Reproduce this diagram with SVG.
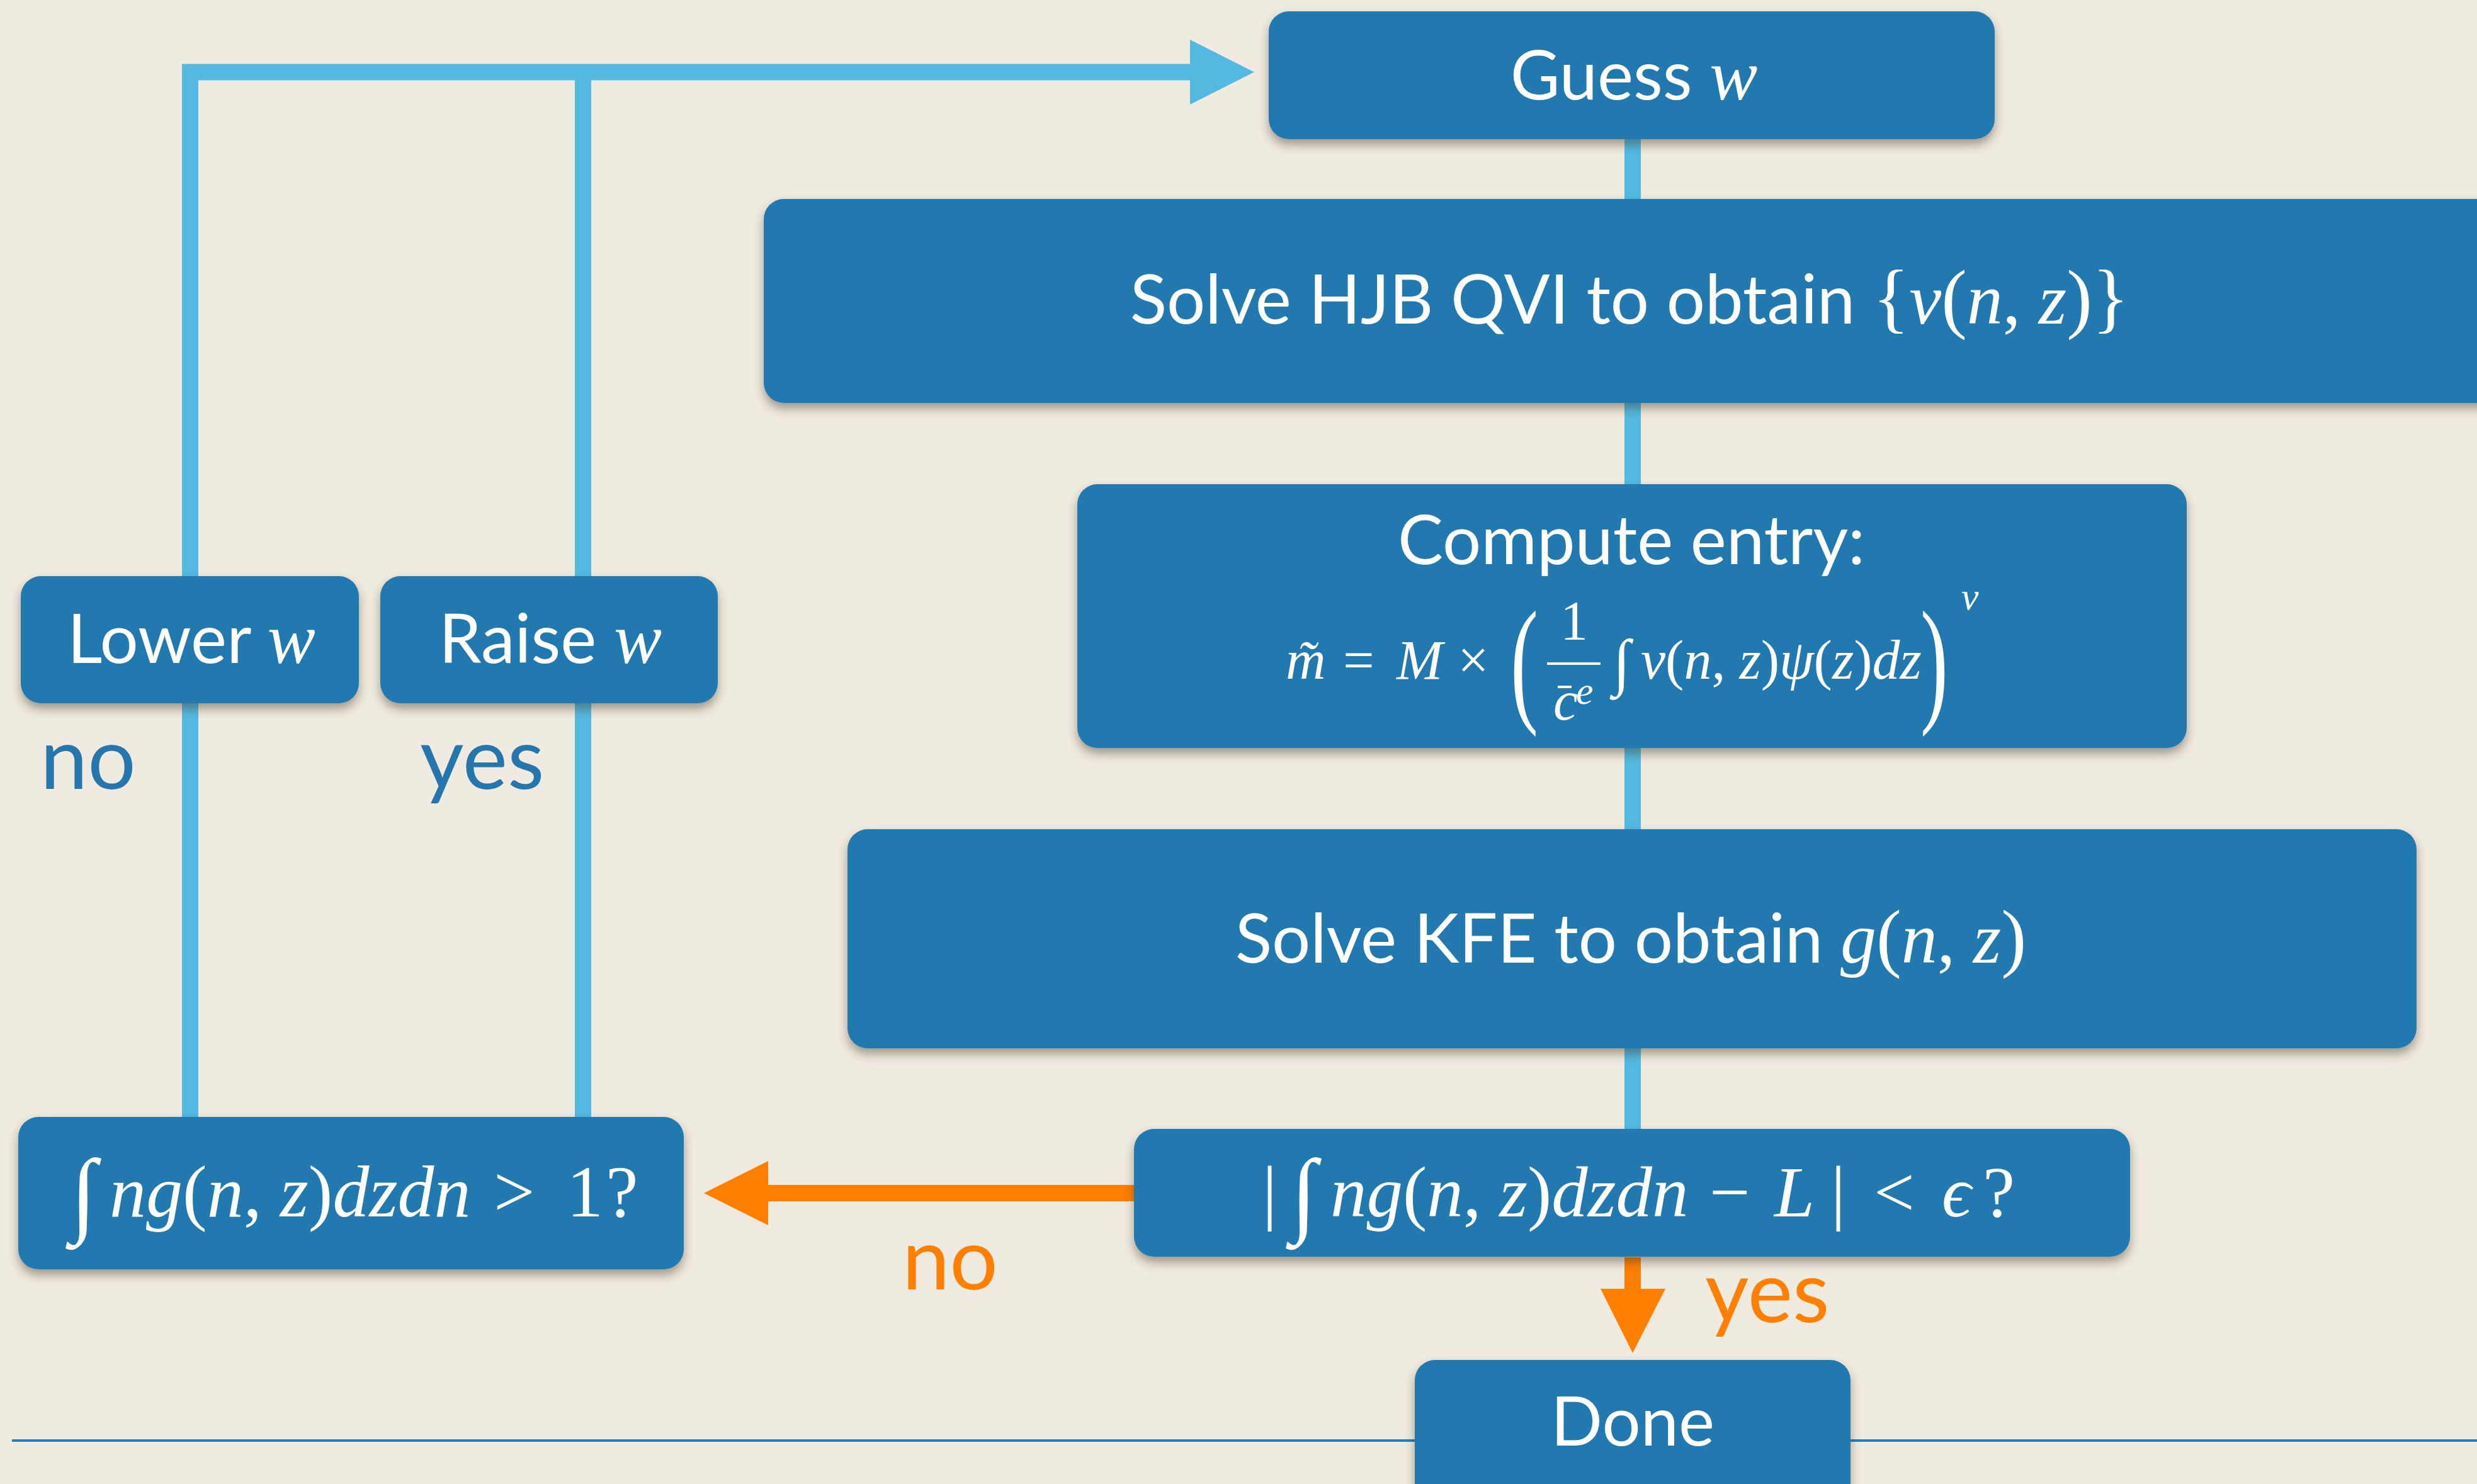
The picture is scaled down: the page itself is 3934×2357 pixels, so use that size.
<svg xmlns="http://www.w3.org/2000/svg" width="3934" height="2357" viewBox="0 0 3934 2357">
<style>
.box{fill:#2479AF;filter:url(#sh)}
.t{font-family:Lato,"Noto Sans",sans-serif;fill:#fff;font-size:108px}
.m{font-family:"Liberation Serif","DejaVu Serif",serif;font-style:normal;fill:#fff}
.mi{font-family:"Liberation Serif","DejaVu Serif",serif;font-style:italic;fill:#fff}
.lbl{font-family:Lato,"Noto Sans",sans-serif;font-size:135px}
.blue{fill:#2676AE}
.orange{fill:#FF7F00}
.conn{fill:none;stroke:#54B9E0;stroke-width:26;stroke-linejoin:miter}
.or{fill:none;stroke:#FF7F00;stroke-width:26}
.head-b{fill:#54B9E0}
.head-o{fill:#FF7F00}
</style>
<defs>
<filter id="sh" x="-10%" y="-20%" width="120%" height="150%">
<feDropShadow dx="0" dy="9" stdDeviation="8" flood-color="#3a3020" flood-opacity="0.45"/>
</filter>
</defs>
<rect x="0" y="0" width="3934" height="2357" fill="#EFEBE0"/>
<rect x="19" y="2286" width="3915" height="4" fill="#2F7CB0"/>

<g id="connectors">
<line class="conn" x1="2593" y1="221" x2="2593" y2="1793" stroke-width="27"/>
<path class="conn" d="M302,1774 V114.5 H1892"/>
<path class="conn" d="M926,1774 V114.5"/>
<polygon class="head-b" points="1890,63 1992,114.5 1890,166"/>
<path class="or" d="M1801,1895 H1218"/>
<polygon class="head-o" points="1220,1844 1118,1895 1220,1946"/>
<path class="or" d="M2593,1997 V2049" stroke-width="27"/>
<polygon class="head-o" points="2542,2047 2645,2047 2593,2149"/>
</g>

<g id="labels">
<text class="lbl blue" x="64" y="1253">no</text>
<text class="lbl blue" x="667" y="1253">yes</text>
<text class="lbl orange" x="1433" y="2048">no</text>
<text class="lbl orange" x="2708" y="2100">yes</text>
</g>

<g id="guess">
<rect class="box" x="2015" y="18" width="1153" height="203" rx="32"/>
<text class="t" x="2595" y="158" text-anchor="middle">Guess <tspan class="mi" font-size="114">w</tspan></text>
</g>

<g id="hjb">
<rect class="box" x="1213" y="316" width="2800" height="324" rx="32"/>
<text class="t" x="2588" y="514" text-anchor="middle">Solve HJB QVI to obtain <tspan class="m" font-size="122">{</tspan><tspan class="mi" font-size="114">v</tspan><tspan class="m" font-size="122">(</tspan><tspan class="mi" font-size="114">n</tspan><tspan class="m" font-size="114">, </tspan><tspan class="mi" font-size="114">z</tspan><tspan class="m" font-size="122">)}</tspan></text>
</g>

<g id="entry">
<rect class="box" x="1711" y="769" width="1762" height="419" rx="32"/>
<text class="t" x="2591" y="896" text-anchor="middle">Compute entry:</text>
<text class="mi" x="2042" y="1078" font-size="88">m&#x303;</text>
<text class="m" x="2133" y="1078" font-size="88">=</text>
<text class="mi" x="2218" y="1078" font-size="88">M</text>
<text class="m" x="2315" y="1078" font-size="88">×</text>
<text class="m" font-size="132" transform="translate(2399,1123) scale(1,1.667)">(</text>
<text class="m" x="2500" y="1015" font-size="88" text-anchor="middle">1</text>
<rect x="2457" y="1052" width="85" height="4" fill="#fff"/>
<text class="mi" x="2467" y="1143" font-size="88">c</text>
<rect x="2474" y="1089" width="22" height="4" fill="#fff"/>
<text class="mi" x="2503" y="1118" font-size="62">e</text>
<text class="m" x="2562" y="1085" font-size="100">∫</text>
<text class="mi" x="2606" y="1078" font-size="88">v<tspan class="m">(</tspan>n<tspan class="m">, </tspan>z<tspan class="m">)</tspan>ψ<tspan class="m">(</tspan>z<tspan class="m">)</tspan>dz</text>
<text class="m" font-size="132" transform="translate(3050,1123) scale(1,1.667)">)</text>
<text class="mi" x="3115" y="968" font-size="62">ν</text>
</g>

<g id="kfe">
<rect class="box" x="1346" y="1317" width="2492" height="348" rx="32"/>
<text class="t" x="2590" y="1529" text-anchor="middle">Solve KFE to obtain <tspan class="mi" font-size="114">g</tspan><tspan class="m" font-size="120">(</tspan><tspan class="mi" font-size="114">n</tspan><tspan class="m" font-size="114">, </tspan><tspan class="mi" font-size="114">z</tspan><tspan class="m" font-size="120">)</tspan></text>
</g>

<g id="lower">
<rect class="box" x="33" y="915" width="537" height="202" rx="32"/>
<text class="t" x="304" y="1053" text-anchor="middle">Lower <tspan class="mi" font-size="114">w</tspan></text>
</g>

<g id="raise">
<rect class="box" x="604" y="915" width="536" height="202" rx="32"/>
<text class="t" x="874" y="1053" text-anchor="middle">Raise <tspan class="mi" font-size="114">w</tspan></text>
</g>

<g id="check-gt1">
<rect class="box" x="29" y="1774" width="1057" height="242" rx="32"/>
<text class="m" x="112" y="1945" font-size="150">∫</text>
<text class="mi" x="174" y="1932" font-size="116">ng<tspan class="m">(</tspan>n<tspan class="m">, </tspan>z<tspan class="m">)</tspan>dzdn<tspan class="m" x="784">&gt;</tspan><tspan class="m" x="900">1</tspan><tspan class="m" x="962">?</tspan></text>
</g>

<g id="check-conv">
<rect class="box" x="1801" y="1793" width="1582" height="203" rx="32"/>
<text class="m" x="2005" y="1932" font-size="115">|</text>
<text class="m" x="2050" y="1945" font-size="150">∫</text>
<text class="mi" x="2113" y="1932" font-size="115">ng<tspan class="m">(</tspan>n<tspan class="m">, </tspan>z<tspan class="m">)</tspan>dzdn<tspan class="m" x="2715">−</tspan><tspan x="2818">L</tspan><tspan class="m" x="2908">|</tspan><tspan class="m" x="2976">&lt;</tspan><tspan x="3084">ϵ</tspan><tspan class="m" x="3149">?</tspan></text>
</g>

<g id="done">
<rect class="box" x="2247" y="2160" width="692" height="260" rx="32"/>
<text class="t" x="2593" y="2296" text-anchor="middle">Done</text>
</g>
</svg>
